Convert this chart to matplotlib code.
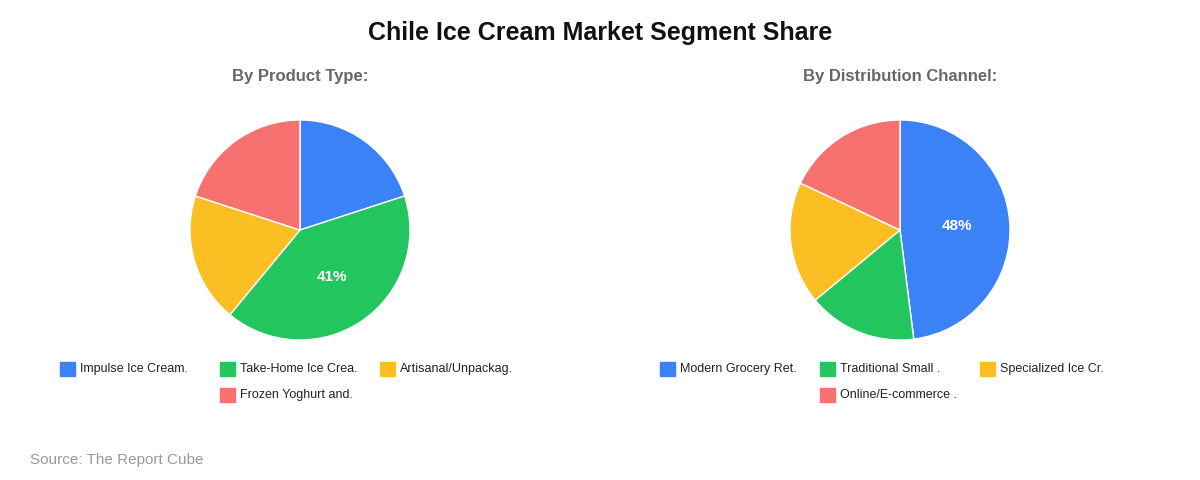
import numpy as np
import matplotlib.pyplot as plt
from matplotlib.patches import Rectangle

plt.rcParams['font.family'] = ['Liberation Sans', 'DejaVu Sans']

product_labels = ["Impulse Ice Cream.", "Take-Home Ice Crea.", "Artisanal/Unpackag.", "Frozen Yoghurt and."]
product_share = [20, 41, 19, 20]
channel_labels = ["Modern Grocery Ret.", "Traditional Small .", "Specialized Ice Cr.", "Online/E-commerce ."]
channel_share = [48, 16, 18, 18]
colors = ["#3b82f6", "#22c55e", "#fbbf24", "#f87171"]

W, H = 1200, 480
fig = plt.figure(figsize=(12, 4.8), dpi=100)
fig.text(0.5, 1 - 33 / H, "Chile Ice Cream Market Segment Share", ha="center", va="center",
         fontsize=18, fontweight="bold", color="#111111")
fig.text(30 / W, 1 - 460 / H, "Source: The Report Cube", fontsize=11, color="#999999", va="center")


def draw_pie(cx, title, labels, values, legend_x):
    r = 110
    ax = fig.add_axes([(cx - r) / W, (H - 230 - r) / H, 2 * r / W, 2 * r / H])
    wedges, _ = ax.pie(values, colors=colors, startangle=90, counterclock=False,
                       wedgeprops=dict(edgecolor="white", linewidth=1))
    ax.set_xlim(-1, 1)
    ax.set_ylim(-1, 1)
    ax.set_aspect("equal")
    big = values.index(max(values))
    w = wedges[big]
    ang = np.deg2rad((w.theta1 + w.theta2) / 2)
    ax.text(0.52 * np.cos(ang), 0.52 * np.sin(ang), f"{values[big]}%", ha="center", va="center",
            color="white", fontsize=11, fontweight="bold")
    fig.text(cx / W, 1 - 77 / H, title, ha="center", va="center", fontsize=12,
             fontweight="bold", color="#666666")
    for i, lab in enumerate(labels):
        col, row = i % 3, i // 3
        if row == 1:
            col = 1
        x = legend_x + col * 160
        y = 369 + row * 26
        fig.patches.append(Rectangle((x / W, 1 - (y + 7) / H), 15 / W, 14 / H,
                                     color=colors[i], transform=fig.transFigure))
        fig.text((x + 20) / W, 1 - y / H, lab, va="center", fontsize=9, color="#222222")


draw_pie(300, "By Product Type:", product_labels, product_share, 60)
draw_pie(900, "By Distribution Channel:", channel_labels, channel_share, 660)

fig.savefig("out.png", dpi=100, facecolor="white")
